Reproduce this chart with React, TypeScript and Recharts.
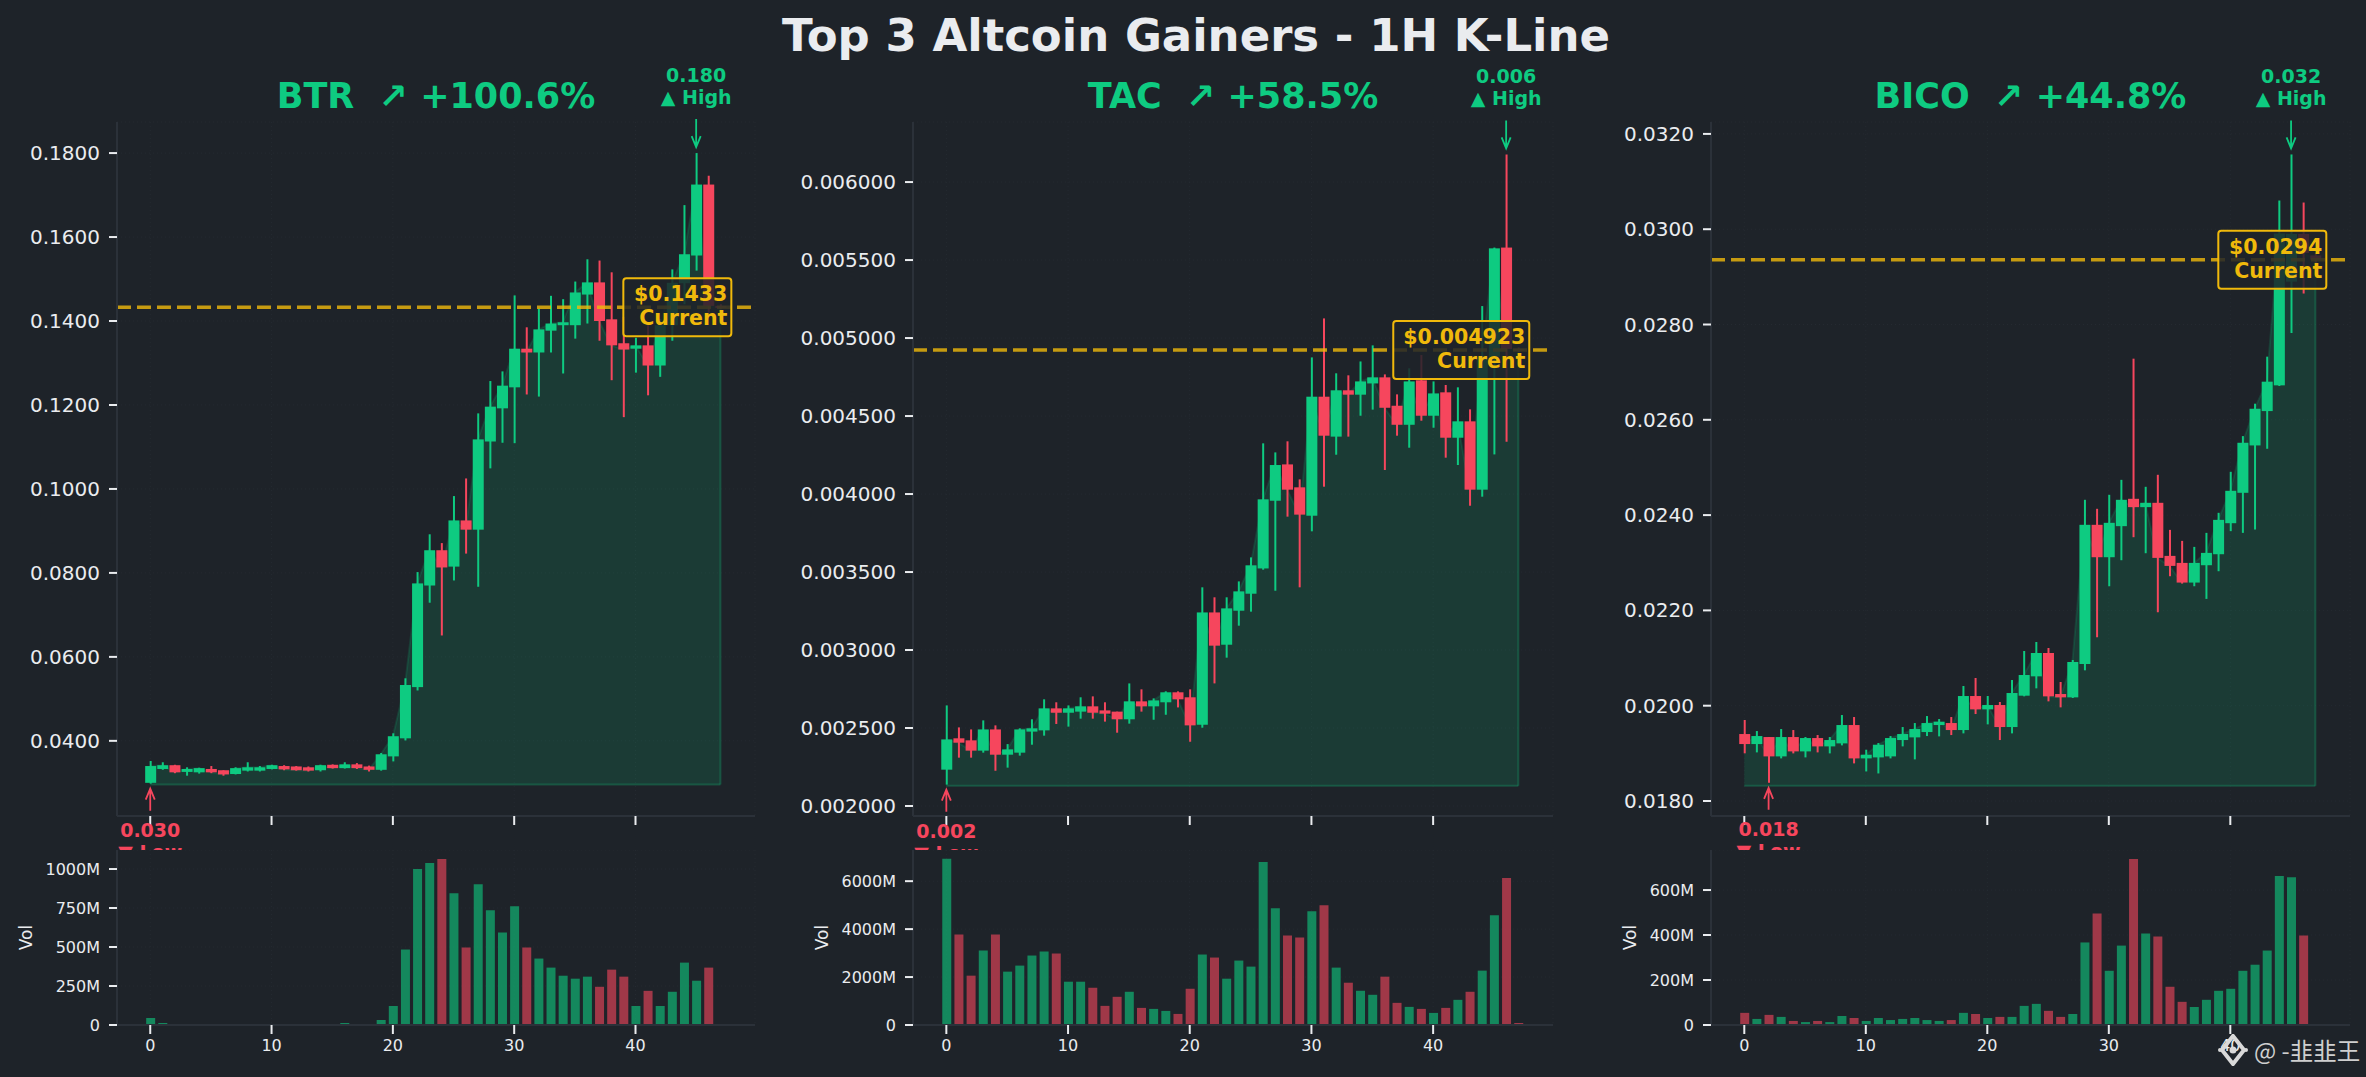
import {
  Area,
  Bar,
  CartesianGrid,
  Cell,
  ComposedChart,
  BarChart,
  ReferenceDot,
  ReferenceLine,
  XAxis,
  YAxis,
} from "recharts";

const BG = "#1E2329";
const GREEN = "#0ECB81";
const RED = "#F6465D";
const GOLD = "#F0B90B";
const TEXT = "#EAECEF";
const SPINE = "#2B3139";
const FONT = "'DejaVu Sans', sans-serif";

// one candle per hour
const btrOpen = [0.03, 0.0333, 0.0342, 0.0326, 0.0325, 0.0333, 0.033, 0.0321, 0.0329, 0.0329, 0.0333, 0.034, 0.0339, 0.0337, 0.033, 0.0343, 0.0335, 0.0344, 0.0339, 0.0331, 0.0363, 0.0406, 0.0528, 0.077, 0.0854, 0.0815, 0.0925, 0.0903, 0.1113, 0.1192, 0.1242, 0.1334, 0.1325, 0.1377, 0.139, 0.139, 0.1463, 0.1492, 0.1404, 0.1347, 0.1334, 0.1342, 0.1294, 0.139, 0.149, 0.1556, 0.1725, 0.1436];
const btrHigh = [0.0352, 0.0349, 0.0343, 0.0337, 0.0336, 0.034, 0.033, 0.0337, 0.0349, 0.034, 0.0343, 0.0342, 0.034, 0.0339, 0.0343, 0.0344, 0.0349, 0.0347, 0.0341, 0.0371, 0.0418, 0.0549, 0.0802, 0.0892, 0.0871, 0.0983, 0.1025, 0.118, 0.1257, 0.128, 0.1461, 0.1385, 0.1429, 0.146, 0.1452, 0.1494, 0.1547, 0.1544, 0.1516, 0.141, 0.136, 0.139, 0.1405, 0.1523, 0.1676, 0.18, 0.1746, 0.144];
const btrLow = [0.0298, 0.0331, 0.0323, 0.0317, 0.0322, 0.0323, 0.0317, 0.032, 0.0327, 0.0327, 0.0332, 0.033, 0.0329, 0.0327, 0.0327, 0.0334, 0.0334, 0.0333, 0.0327, 0.0329, 0.0351, 0.0401, 0.052, 0.0729, 0.0651, 0.0782, 0.0846, 0.0767, 0.1049, 0.111, 0.1109, 0.1225, 0.122, 0.1325, 0.1275, 0.1358, 0.1394, 0.1353, 0.1259, 0.1171, 0.1277, 0.1223, 0.1267, 0.1353, 0.144, 0.152, 0.142, 0.1428];
const btrClose = [0.034, 0.0342, 0.0325, 0.0333, 0.0335, 0.0325, 0.032, 0.0335, 0.0337, 0.0337, 0.0342, 0.0332, 0.033, 0.0329, 0.0342, 0.0335, 0.0344, 0.0335, 0.0331, 0.0368, 0.0411, 0.0533, 0.0775, 0.0854, 0.0813, 0.0925, 0.0903, 0.1118, 0.1196, 0.1246, 0.1334, 0.1325, 0.138, 0.1394, 0.1397, 0.1468, 0.1492, 0.14, 0.1342, 0.1332, 0.1342, 0.1294, 0.139, 0.1491, 0.1559, 0.1725, 0.1436, 0.1433];
const btrVol = [45, 13, 2, 2, 1, 2, 1, 2, 3, 2, 2, 1, 1, 2, 2, 2, 13, 3, 4, 32, 122, 484, 1000, 1039, 1065, 845, 497, 903, 735, 593, 761, 497, 426, 368, 316, 297, 310, 245, 355, 310, 122, 219, 122, 213, 400, 284, 368, 1];
const btrTicks = [0.04, 0.06, 0.08, 0.1, 0.12, 0.14, 0.16, 0.18];
const btrVolTicks = [0, 250, 500, 750, 1000];

const tacOpen = [0.002233, 0.002434, 0.002421, 0.002355, 0.002491, 0.002329, 0.002342, 0.002477, 0.002485, 0.002626, 0.002598, 0.002605, 0.002639, 0.002613, 0.002605, 0.002556, 0.002671, 0.002639, 0.002665, 0.002729, 0.002697, 0.002521, 0.003241, 0.003034, 0.003252, 0.003361, 0.003523, 0.003957, 0.00419, 0.004043, 0.003861, 0.004624, 0.004368, 0.004665, 0.004637, 0.004709, 0.004748, 0.004566, 0.004444, 0.004729, 0.004502, 0.004652, 0.004361, 0.004466, 0.004028, 0.00488, 0.00558, 0.00493];
const tacHigh = [0.002645, 0.002504, 0.002491, 0.002549, 0.002517, 0.002397, 0.002498, 0.002556, 0.002684, 0.002665, 0.002645, 0.002697, 0.002703, 0.002665, 0.002605, 0.002786, 0.002748, 0.00269, 0.002735, 0.002735, 0.002748, 0.003402, 0.003338, 0.003338, 0.00344, 0.003594, 0.004325, 0.004267, 0.004338, 0.004094, 0.004876, 0.005126, 0.004774, 0.004761, 0.00485, 0.004953, 0.004767, 0.004639, 0.004806, 0.004891, 0.004722, 0.004699, 0.004684, 0.004543, 0.005205, 0.00558, 0.006177, 0.00494];
const tacLow = [0.002137, 0.00231, 0.00231, 0.002342, 0.002226, 0.002246, 0.002323, 0.002393, 0.002451, 0.002526, 0.002509, 0.00256, 0.00256, 0.002541, 0.00247, 0.002528, 0.002605, 0.002553, 0.002585, 0.002632, 0.002412, 0.002502, 0.002786, 0.002951, 0.003156, 0.003246, 0.003515, 0.00338, 0.003855, 0.003402, 0.003761, 0.004047, 0.004252, 0.004368, 0.004502, 0.004541, 0.004154, 0.004374, 0.004297, 0.00447, 0.004425, 0.004233, 0.004186, 0.003925, 0.003983, 0.004254, 0.004335, 0.00491];
const tacClose = [0.002427, 0.002406, 0.002355, 0.002491, 0.002329, 0.002363, 0.002491, 0.002498, 0.002626, 0.002598, 0.002626, 0.002639, 0.002598, 0.002592, 0.002556, 0.002671, 0.002639, 0.002677, 0.002729, 0.002684, 0.002517, 0.003241, 0.003028, 0.003267, 0.003376, 0.003543, 0.003966, 0.004186, 0.004028, 0.003868, 0.004624, 0.004374, 0.004665, 0.004637, 0.004722, 0.004748, 0.004553, 0.004444, 0.004722, 0.004502, 0.004645, 0.004361, 0.004466, 0.004028, 0.00488, 0.005575, 0.00493, 0.004923];
const tacVol = [6930, 3780, 2058, 3108, 3780, 2226, 2478, 2898, 3066, 2982, 1806, 1806, 1554, 798, 1176, 1386, 714, 672, 588, 462, 1512, 2940, 2814, 1932, 2688, 2436, 6804, 4872, 3738, 3654, 4746, 4998, 2394, 1764, 1428, 1260, 2016, 924, 756, 672, 504, 714, 1050, 1386, 2268, 4578, 6132, 84];
const tacTicks = [0.002, 0.0025, 0.003, 0.0035, 0.004, 0.0045, 0.005, 0.0055, 0.006];
const tacVolTicks = [0, 2000, 4000, 6000];

const bicoOpen = [0.019405, 0.019195, 0.019342, 0.018936, 0.019342, 0.019041, 0.019321, 0.019146, 0.019209, 0.019594, 0.018894, 0.018915, 0.018936, 0.019279, 0.019335, 0.019447, 0.019594, 0.019636, 0.019489, 0.020203, 0.019923, 0.020014, 0.019552, 0.02021, 0.020616, 0.021106, 0.020245, 0.020175, 0.020875, 0.023796, 0.023116, 0.023768, 0.024342, 0.024167, 0.024258, 0.023144, 0.022997, 0.022584, 0.022948, 0.023179, 0.02383, 0.024468, 0.025462, 0.026183, 0.026723, 0.0289, 0.0299, 0.02945];
const bicoHigh = [0.0197, 0.019468, 0.019342, 0.01951, 0.019489, 0.019342, 0.019384, 0.019342, 0.019804, 0.019762, 0.019076, 0.019216, 0.019363, 0.019552, 0.019636, 0.019783, 0.01972, 0.019762, 0.020413, 0.020581, 0.020203, 0.020077, 0.020539, 0.021148, 0.021337, 0.021211, 0.020497, 0.020959, 0.024321, 0.024132, 0.024426, 0.02474, 0.027283, 0.024594, 0.024846, 0.02369, 0.023459, 0.023333, 0.023627, 0.024048, 0.024909, 0.025658, 0.026338, 0.027325, 0.030602, 0.031569, 0.03056, 0.0295];
const bicoLow = [0.019, 0.01902, 0.018382, 0.018894, 0.018999, 0.018915, 0.01902, 0.018999, 0.019167, 0.018789, 0.01862, 0.018578, 0.018894, 0.019146, 0.018873, 0.019363, 0.019356, 0.019384, 0.019419, 0.019825, 0.019608, 0.019279, 0.019419, 0.020196, 0.020364, 0.020091, 0.019965, 0.020161, 0.020742, 0.021436, 0.022507, 0.023053, 0.023536, 0.0232, 0.021961, 0.022717, 0.022563, 0.022507, 0.022241, 0.022822, 0.023663, 0.023627, 0.023697, 0.025392, 0.026709, 0.027822, 0.02865, 0.02925];
const bicoClose = [0.019195, 0.019363, 0.018936, 0.019342, 0.019041, 0.019321, 0.019146, 0.019279, 0.019594, 0.018894, 0.018971, 0.019181, 0.019321, 0.019405, 0.01951, 0.019636, 0.019664, 0.019489, 0.020203, 0.019923, 0.020014, 0.019552, 0.020266, 0.020644, 0.021106, 0.020196, 0.020175, 0.020917, 0.023796, 0.023116, 0.023838, 0.024321, 0.024167, 0.024258, 0.023102, 0.022934, 0.022584, 0.022997, 0.023207, 0.0239, 0.02451, 0.025518, 0.026232, 0.0268, 0.029909, 0.0299, 0.0295, 0.02936];
const bicoVol = [54, 27, 45, 36, 18, 13, 18, 13, 40, 31, 18, 31, 22, 27, 31, 22, 18, 22, 54, 49, 31, 36, 36, 85, 94, 63, 36, 49, 367, 496, 241, 353, 738, 407, 393, 170, 103, 80, 112, 152, 161, 241, 268, 331, 662, 657, 398, 0];
const bicoTicks = [0.018, 0.02, 0.022, 0.024, 0.026, 0.028, 0.03, 0.032];
const bicoVolTicks = [0, 200, 400, 600];

const xTicks = [0, 10, 20, 30, 40];

const CandleShape = (props: any) => {
  const { x, y, width, height, payload } = props;
  const cx = x + width / 2;
  const up = payload.close >= payload.open;
  const color = up ? GREEN : RED;
  const perUnit = height / (payload.high - payload.low);
  const top = y + (payload.high - Math.max(payload.open, payload.close)) * perUnit;
  const bottom = y + (payload.high - Math.min(payload.open, payload.close)) * perUnit;
  return (
    <g>
      <line x1={cx} x2={cx} y1={y} y2={y + height} stroke={color} strokeWidth={2} />
      <rect x={x} y={top} width={width} height={Math.max(bottom - top, 2)} fill={color} />
    </g>
  );
};

const Arrow = ({ x, from, to, color }: any) => {
  const dir = to > from ? -1 : 1;
  return (
    <path
      d={`M${x} ${from}L${x} ${to}M${x - 4.5} ${to + dir * 11}L${x} ${to}L${x + 4.5} ${to + dir * 11}`}
      stroke={color}
      strokeWidth={1.8}
      fill="none"
    />
  );
};

const HighMark = ({ cx, cy, label }: any) => (
  <g fontFamily={FONT} fontWeight="bold" fontSize={19} fill={GREEN} textAnchor="middle">
    <Arrow x={cx} from={cy - 34} to={cy - 6} color={GREEN} />
    <text x={cx} y={cy - 71}>{label}</text>
    <text x={cx} y={cy - 49}>▲ High</text>
  </g>
);

const LowMark = ({ cx, cy, label }: any) => (
  <g fontFamily={FONT} fontWeight="bold" fontSize={19} fill={RED} textAnchor="middle">
    <Arrow x={cx} from={cy + 27} to={cy + 5} color={RED} />
    <text x={cx} y={cy + 53}>{label}</text>
    <text x={cx} y={cy + 75}>▼ Low</text>
  </g>
);

const CurrentTag = ({ cx, cy, label }: any) => {
  const w = label.length * 14 + 10;
  return (
    <g fontFamily={FONT} fontWeight="bold" fontSize={20.5} fill={GOLD} textAnchor="end">
      <rect x={cx - w} y={cy - 29} width={w} height={58} rx={3} fill={BG} fillOpacity={0.85} stroke={GOLD} strokeWidth={2} />
      <text x={cx - 4} y={cy - 6}>{label}</text>
      <text x={cx - 4} y={cy + 18}>Current</text>
    </g>
  );
};

const Panel = ({
  left,
  plotLeft,
  plotRight,
  open,
  high,
  low,
  close,
  vol,
  yDomain,
  yTicks,
  digits,
  volMax,
  volTicks,
  base,
  title,
  highAt,
  highLabel,
  lowAt,
  lowLabel,
  current,
  currentLabel,
  volLabelOffset,
}: any) => {
  const width = 780;
  const rows = close.map((c: number, i: number) => ({
    i,
    open: open[i],
    high: high[i],
    low: low[i],
    close: c,
    range: [low[i], high[i]],
    vol: vol[i],
  }));
  const xDomain = [-2.74, 49.85];
  const last = rows.length - 1;
  return (
    <>
      <div
        style={{
          position: "absolute",
          left,
          top: 0,
          width,
          height: 870,
        }}
      >
        <ComposedChart
          width={width}
          height={870}
          data={rows}
          margin={{ top: 122, left: plotLeft - 100, right: width - plotRight, bottom: 34 }}
        >
          <XAxis
            dataKey="i"
            type="number"
            domain={xDomain}
            allowDataOverflow
            ticks={xTicks}
            height={20}
            stroke={SPINE}
            strokeWidth={2}
            tickSize={9}
            tickLine={{ stroke: TEXT, strokeWidth: 2 }}
            tick={() => <g />}
          />
          <YAxis
            type="number"
            domain={yDomain}
            allowDataOverflow
            ticks={yTicks}
            width={100}
            stroke={SPINE}
            strokeWidth={2}
            tickSize={8}
            tickMargin={9}
            tickLine={{ stroke: TEXT, strokeWidth: 2 }}
            tick={{ fill: TEXT, fontSize: 20, fontFamily: FONT }}
            tickFormatter={(v: number) => v.toFixed(digits)}
          />
          <Area
            dataKey="close"
            type="linear"
            baseValue={base}
            stroke={GREEN}
            strokeOpacity={0.15}
            strokeWidth={2}
            fill={GREEN}
            fillOpacity={0.15}
            dot={false}
            activeDot={false}
            isAnimationActive={false}
          />
          <ReferenceLine
            segment={[
              { x: 0, y: base },
              { x: last, y: base },
            ]}
            stroke={GREEN}
            strokeOpacity={0.25}
            strokeWidth={2}
          />
          <ReferenceLine
            segment={[
              { x: last, y: base },
              { x: last, y: close[last] },
            ]}
            stroke={GREEN}
            strokeOpacity={0.25}
            strokeWidth={2}
          />
          <Bar
            dataKey="range"
            barSize={11}
            shape={CandleShape}
            isAnimationActive={false}
          />
          <CartesianGrid stroke={SPINE} strokeOpacity={0.5} strokeDasharray="1 3" />
          <ReferenceLine
            y={current}
            stroke={GOLD}
            strokeOpacity={0.8}
            strokeWidth={3.5}
            strokeDasharray="14 6"
          />
          <ReferenceDot
            x={highAt}
            y={high[highAt]}
            ifOverflow="visible"
            shape={(p: any) => <HighMark {...p} label={highLabel} />}
          />
          <ReferenceDot
            x={lowAt}
            y={low[lowAt]}
            ifOverflow="visible"
            shape={(p: any) => <LowMark {...p} label={lowLabel} />}
          />
          <ReferenceDot
            x={47.9}
            y={current}
            ifOverflow="visible"
            shape={(p: any) => <CurrentTag {...p} label={currentLabel} />}
          />
        </ComposedChart>
      </div>
      <div
        style={{
          position: "absolute",
          left: left + (plotLeft + plotRight) / 2 - 300,
          top: 72,
          width: 600,
          textAlign: "center",
          whiteSpace: "pre",
          color: GREEN,
          fontFamily: FONT,
          fontWeight: "bold",
          fontSize: 35,
          lineHeight: "48px",
        }}
      >
        {title}
      </div>
      <div
        style={{
          position: "absolute",
          left,
          top: 850,
          width,
          height: 227,
          background: BG,
        }}
      >
        <BarChart
          width={width}
          height={227}
          data={rows}
          margin={{ top: 0, left: plotLeft - 100, right: width - plotRight, bottom: 12 }}
        >
          <XAxis
            dataKey="i"
            type="number"
            domain={xDomain}
            allowDataOverflow
            ticks={xTicks}
            height={40}
            stroke={SPINE}
            strokeWidth={2}
            tickSize={9}
            tickMargin={6}
            tickLine={{ stroke: TEXT, strokeWidth: 2 }}
            tick={{ fill: TEXT, fontSize: 16, fontFamily: FONT }}
          />
          <YAxis
            type="number"
            domain={[0, volMax]}
            allowDataOverflow
            ticks={volTicks}
            width={100}
            stroke={SPINE}
            strokeWidth={2}
            tickSize={8}
            tickMargin={9}
            tickLine={{ stroke: TEXT, strokeWidth: 2 }}
            tick={{ fill: TEXT, fontSize: 16, fontFamily: FONT }}
            tickFormatter={(v: number) => (v === 0 ? "0" : `${v}M`)}
            label={{
              value: "Vol",
              angle: -90,
              position: "insideLeft",
              offset: 100 - volLabelOffset,
              fill: TEXT,
              fontSize: 17,
              fontFamily: FONT,
              style: { textAnchor: "middle" },
            }}
          />
          <Bar dataKey="vol" barSize={9} isAnimationActive={false}>
            {rows.map((r: any) => (
              <Cell
                key={r.i}
                fill={r.close >= r.open ? GREEN : RED}
                fillOpacity={0.6}
              />
            ))}
          </Bar>
          <CartesianGrid stroke={SPINE} strokeOpacity={0.5} strokeDasharray="1 3" />
        </BarChart>
      </div>
    </>
  );
};

export default function App() {
  return (
    <div
      style={{
        position: "absolute",
        left: 0,
        top: 0,
        width: 2366,
        height: 1077,
        background: BG,
        overflow: "hidden",
      }}
    >
      <Panel
        left={0}
        plotLeft={117}
        plotRight={755}
        open={btrOpen}
        high={btrHigh}
        low={btrLow}
        close={btrClose}
        vol={btrVol}
        yDomain={[0.0221, 0.1874]}
        yTicks={btrTicks}
        digits={4}
        volMax={1122}
        volTicks={btrVolTicks}
        base={0.0296}
        title={"BTR  ↗ +100.6%"}
        highAt={45}
        highLabel="0.180"
        lowAt={0}
        lowLabel="0.030"
        current={0.1433}
        currentLabel="$0.1433"
        volLabelOffset={91}
      />
      <Panel
        left={790}
        plotLeft={123}
        plotRight={763}
        open={tacOpen}
        high={tacHigh}
        low={tacLow}
        close={tacClose}
        vol={tacVol}
        yDomain={[0.001936, 0.006385]}
        yTicks={tacTicks}
        digits={6}
        volMax={7300}
        volTicks={tacVolTicks}
        base={0.00213}
        title={"TAC  ↗ +58.5%"}
        highAt={46}
        highLabel="0.006"
        lowAt={0}
        lowLabel="0.002"
        current={0.004923}
        currentLabel="$0.004923"
        volLabelOffset={91}
      />
      <Panel
        left={1590}
        plotLeft={121}
        plotRight={760}
        open={bicoOpen}
        high={bicoHigh}
        low={bicoLow}
        close={bicoClose}
        vol={bicoVol}
        yDomain={[0.017685, 0.03225]}
        yTicks={bicoTicks}
        digits={4}
        volMax={778}
        volTicks={bicoVolTicks}
        base={0.01832}
        title={"BICO  ↗ +44.8%"}
        highAt={45}
        highLabel="0.032"
        lowAt={2}
        lowLabel="0.018"
        current={0.02936}
        currentLabel="$0.0294"
        volLabelOffset={81}
      />
      <div
        style={{
          position: "absolute",
          left: 0,
          top: 9,
          width: 2392,
          textAlign: "center",
          color: TEXT,
          fontFamily: FONT,
          fontWeight: "bold",
          fontSize: 45,
          lineHeight: "54px",
        }}
      >
        Top 3 Altcoin Gainers - 1H K-Line
      </div>
      <svg
        style={{ position: "absolute", left: 2218, top: 1034 }}
        width={30}
        height={32}
      >
        <path d="M15 2L26 16L15 30L4 16Z" fill="none" stroke="#D9D9D9" strokeWidth={4} />
        <circle cx={15} cy={16} r={3.5} fill="#D9D9D9" />
        <circle cx={2} cy={16} r={2} fill="#D9D9D9" />
        <circle cx={28} cy={16} r={2} fill="#D9D9D9" />
      </svg>
      <div
        style={{
          position: "absolute",
          left: 2254,
          top: 1032,
          color: "#CFCFCF",
          fontFamily: "'Noto Sans CJK SC', sans-serif",
          fontSize: 23.5,
          lineHeight: "36px",
          whiteSpace: "pre",
        }}
      >
        @ -韭韭王
      </div>
    </div>
  );
}
